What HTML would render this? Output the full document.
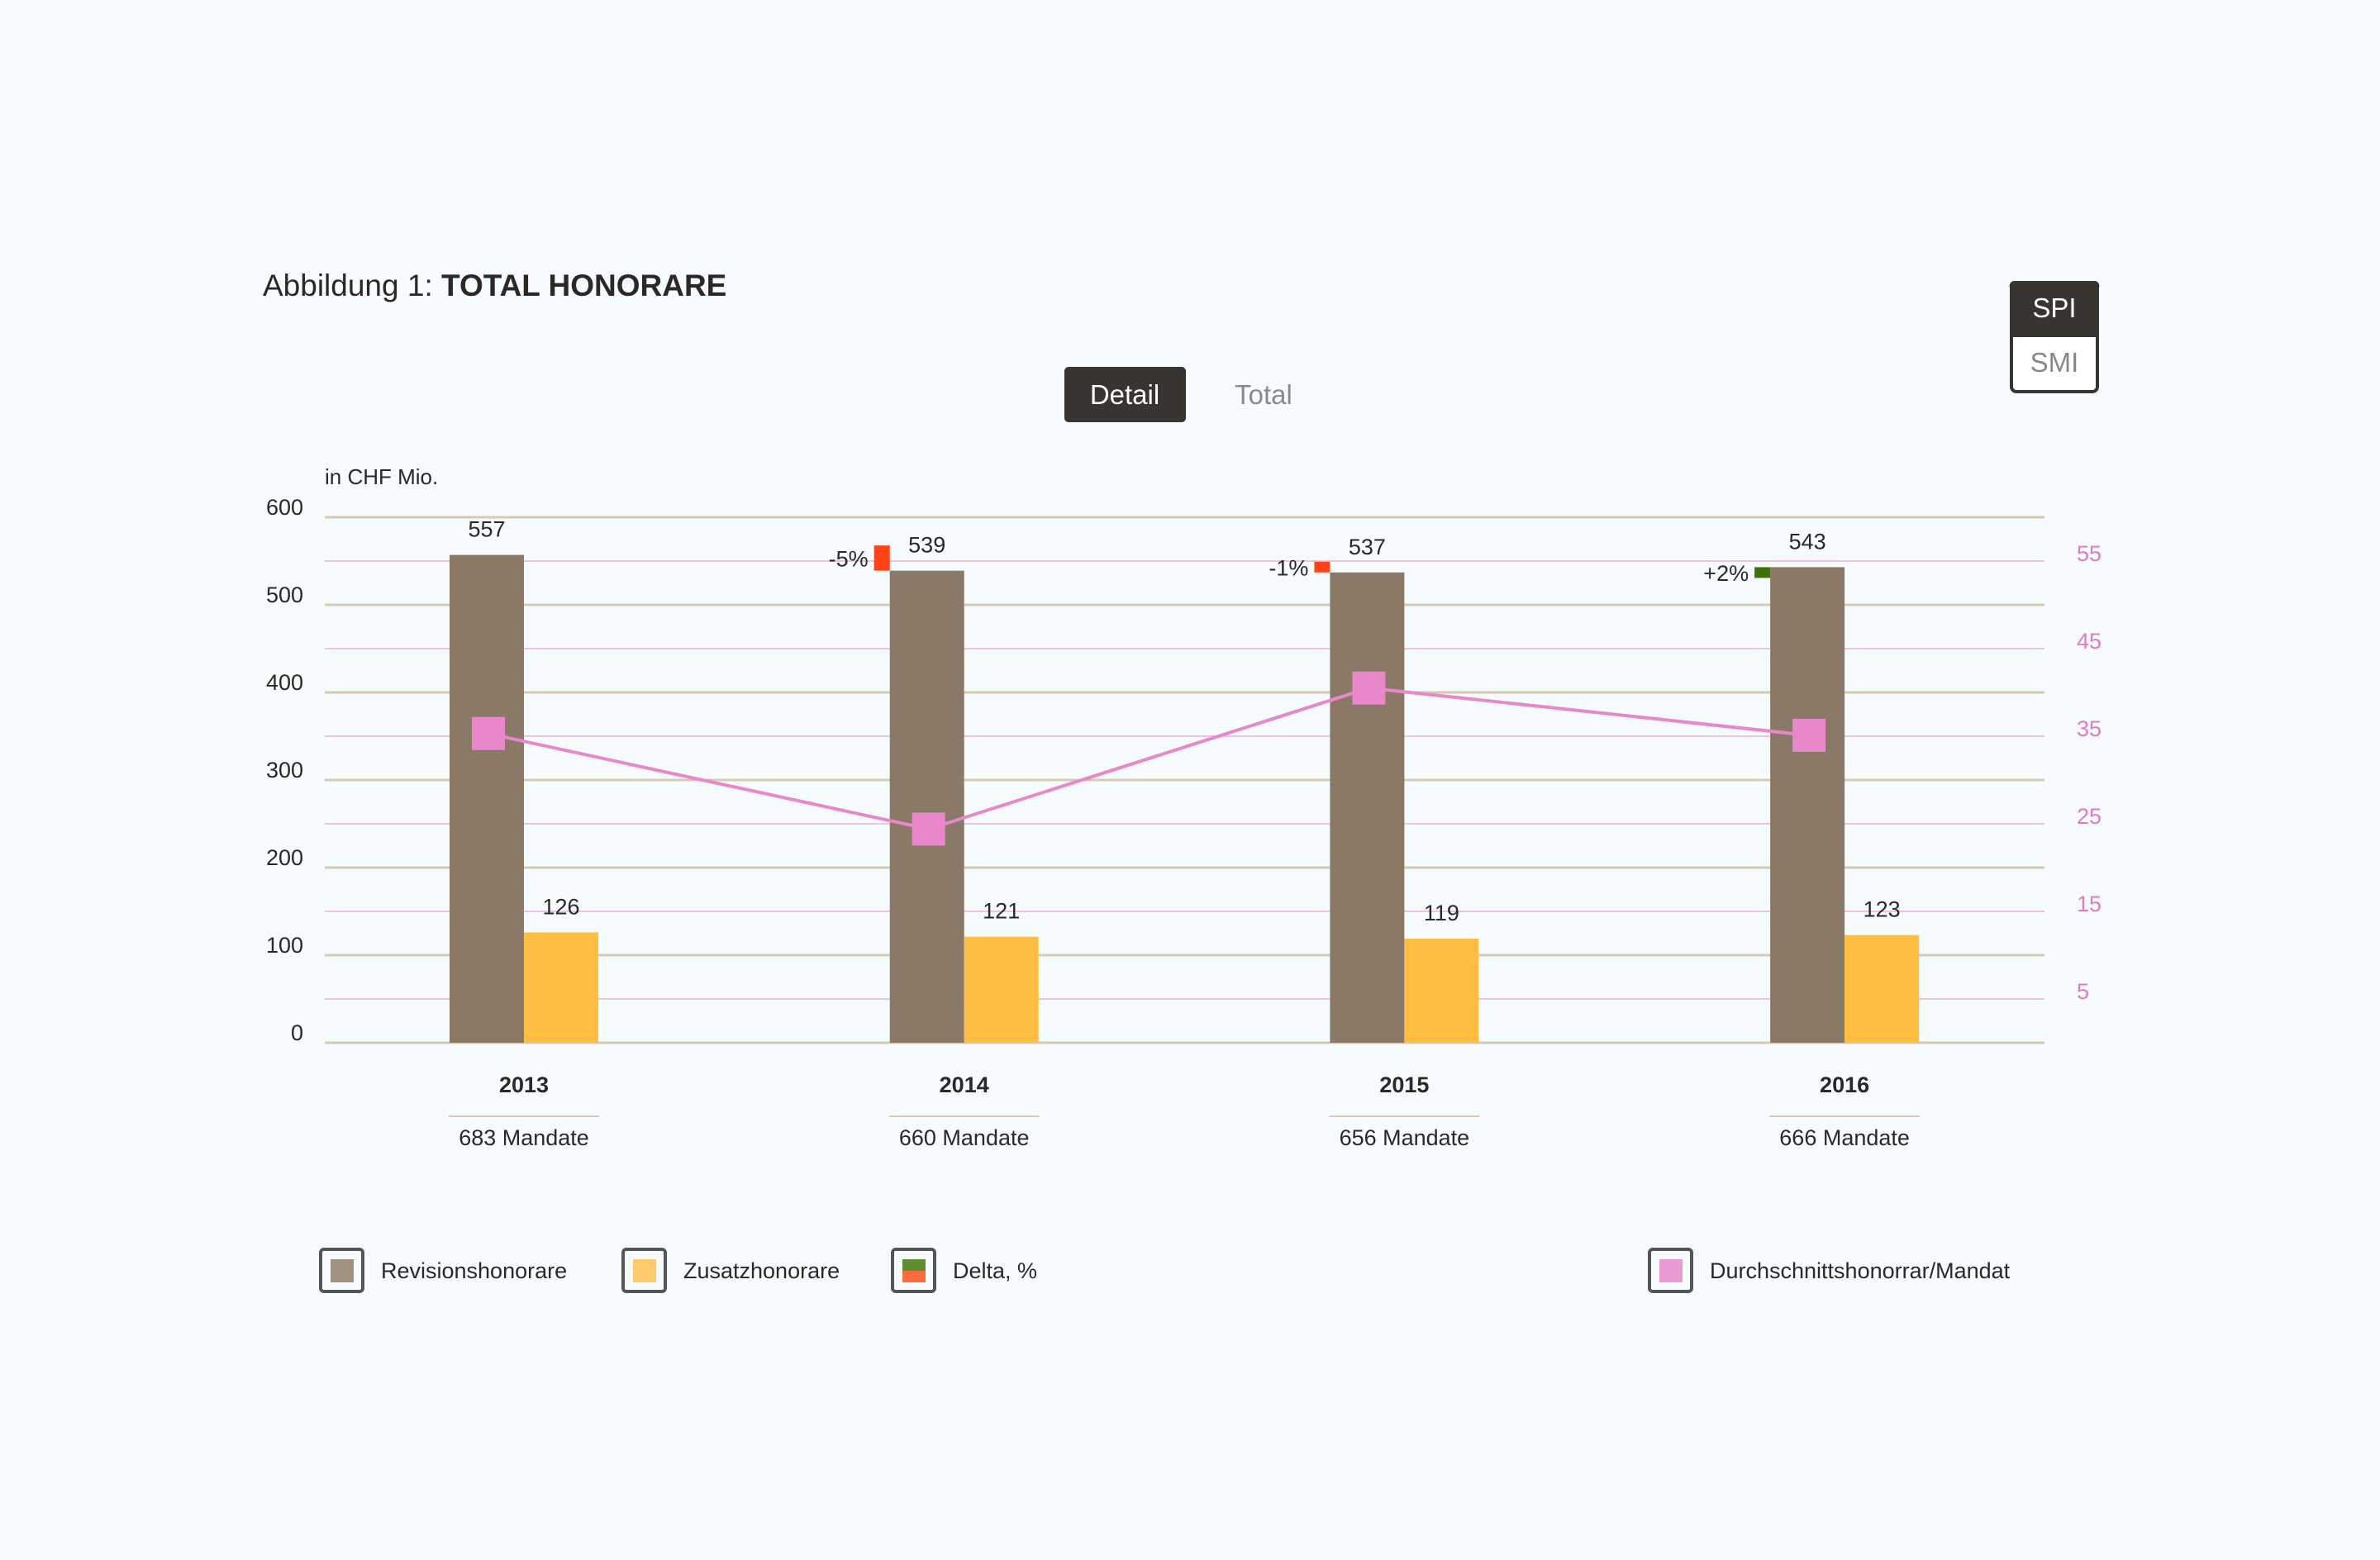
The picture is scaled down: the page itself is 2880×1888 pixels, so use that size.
<!DOCTYPE html>
<html><head><meta charset="utf-8">
<style>
html,body{margin:0;padding:0;background:#f6fbfd;}
body{width:2880px;height:1888px;position:relative;overflow:hidden;font-family:"Liberation Sans",sans-serif;}
svg{position:absolute;left:0;top:0;}
</style></head>
<body>
<svg width="2880" height="1888" viewBox="0 0 2880 1888" font-family="Liberation Sans, sans-serif">
  <text x="318" y="358" font-size="37" fill="#2b2826">Abbildung 1: <tspan font-weight="bold">TOTAL HONORARE</tspan></text>
  <g>
    <rect x="1288" y="444" width="147" height="67" rx="5" fill="#38342f"/>
    <text x="1361" y="489" font-size="33" fill="#fff" text-anchor="middle">Detail</text>
    <text x="1529" y="489" font-size="33" fill="#8a8a8a" text-anchor="middle">Total</text>
  </g>
  <g>
    <rect x="2434" y="342" width="104" height="132" rx="6" fill="#fff" stroke="#38342f" stroke-width="4"/>
    <path d="M2432 348 a6 6 0 0 1 6 -8 h96 a6 6 0 0 1 6 8 v60 h-108 z" fill="#38342f"/>
    <text x="2486" y="384" font-size="33" fill="#fff" text-anchor="middle">SPI</text>
    <text x="2486" y="450" font-size="33" fill="#888" text-anchor="middle">SMI</text>
  </g>
  <text x="393" y="586" font-size="26" fill="#2b2826">in CHF Mio.</text>
  <g id="grid"></g>
  <g id="marks"></g>
  <g id="legend"></g>
</svg>
<script>
const years = ["2013","2014","2015","2016"];
const mandates = ["683 Mandate","660 Mandate","656 Mandate","666 Mandate"];
const revision = [557,539,537,543];
const zusatz = [126,121,119,123];
const deltaLabels = ["","-5%","-1%","+2%"];
const avgFee = [35.3,24.4,40.5,35.1];
const leftTicks = [0,100,200,300,400,500,600];
const rightTicks = [5,15,25,35,45,55];

const NS="http://www.w3.org/2000/svg";
const X0=393,X1=2474,Y0=1262,Y600=626;
const yL=v=>Y0-(v/600)*(Y0-Y600);
const yR=v=>Y0-(v/60)*(Y0-Y600);
const cx=i=>634+i*532.7;
const BW=90;
function el(tag,attrs,parent,txt){const e=document.createElementNS(NS,tag);for(const k in attrs)e.setAttribute(k,attrs[k]);if(txt!==undefined)e.textContent=txt;parent.appendChild(e);return e;}
const grid=document.getElementById('grid'),marks=document.getElementById('marks'),legend=document.getElementById('legend');

rightTicks.forEach(t=>{
  const l=el('line',{x1:X0,x2:X1,y1:yR(t),y2:yR(t),stroke:'#ecc3e2','stroke-width':2},grid);
  
  
  const tx=el('text',{x:2513,y:yR(t)+0,'font-size':27,fill:'#e07bc3'},grid,String(t));
  
  
});
leftTicks.forEach(t=>{
  const l=el('line',{x1:X0,x2:X1,y1:yL(t),y2:yL(t),stroke:'#d6ccb4','stroke-width':3},grid);
  
  
  const tx=el('text',{x:367,y:yL(t)-3,'font-size':27,fill:'#2b2826','text-anchor':'end'},grid,String(t));
  
  
});

years.forEach((yr,i)=>{
  const c=cx(i);
  const b=el('rect',{x:c-BW,y:yL(revision[i]),width:BW,height:Y0-yL(revision[i]),fill:'#8b7968'},marks);
  
  
  const z=el('rect',{x:c,y:yL(zusatz[i]),width:BW,height:Y0-yL(zusatz[i]),fill:'#ffbd42'},marks);
  
  
  const t1=el('text',{x:c-BW/2,y:yL(revision[i])-22,'font-size':27,fill:'#2b2826','text-anchor':'middle'},marks,String(revision[i]));
  
  
  const t2=el('text',{x:c+BW/2,y:yL(zusatz[i])-22,'font-size':27,fill:'#2b2826','text-anchor':'middle'},marks,String(zusatz[i]));
  
  
  if(i>0){
    const top=yL(revision[i]);
    const up=revision[i]>=revision[i-1];
    const h=Math.max(Math.abs(yL(revision[i-1])-top)*1.6,13);
    const dy=up?top:top-h;
    const d=el('rect',{x:c-BW-19,y:dy,width:19,height:h,fill:up?'#3d7208':'#ff4415'},marks);
    
    
    const dt=el('text',{x:c-BW-26,y:dy+h/2+10,'font-size':27,fill:'#2b2826','text-anchor':'end'},marks,deltaLabels[i]);
    
    
  }
  const yl=el('text',{x:c,y:1322,'font-size':27,'font-weight':'bold',fill:'#2b2826','text-anchor':'middle'},marks,yr);
  
  
  const sl=el('line',{x1:c-91,x2:c+91,y1:1351,y2:1351,stroke:'#d6ccb4','stroke-width':2},marks);
  
  
  const ml=el('text',{x:c,y:1386,'font-size':27,fill:'#2b2826','text-anchor':'middle'},marks,mandates[i]);
  
  
});
const pts=avgFee.map((v,i)=>(cx(i)-BW/2+2)+','+yR(v)).join(' ');
const pl=el('polyline',{points:pts,fill:'none',stroke:'#e887c9','stroke-width':4},marks);


avgFee.forEach((v,i)=>{
  const s=el('rect',{x:cx(i)-BW/2+2-20,y:yR(v)-20,width:40,height:40,fill:'#e887c9'},marks);
  
  
});

const legItems=[["Revisionshonorare",386,['#a09080']],["Zusatzhonorare",752,['#ffcb6a']],["Delta, %",1078,['#5e8e30','#ff6a40']],["Durchschnittshonorrar/Mandat",1994,['#e99ad2']]];
legItems.forEach(it=>{
  const g=el('g',{},legend);
  
  
  el('rect',{x:it[1]+2,y:1512,width:51,height:51,rx:4,fill:'none',stroke:'#555','stroke-width':4},g);
  if(it[2].length===1){el('rect',{x:it[1]+14,y:1524,width:28,height:28,fill:it[2][0]},g);}
  else{el('rect',{x:it[1]+14,y:1524,width:28,height:14,fill:it[2][0]},g);el('rect',{x:it[1]+14,y:1538,width:28,height:14,fill:it[2][1]},g);}
  el('text',{x:it[1]+75,y:1547,'font-size':27,fill:'#2b2826'},g,it[0]);
});
</script>
</body></html>
